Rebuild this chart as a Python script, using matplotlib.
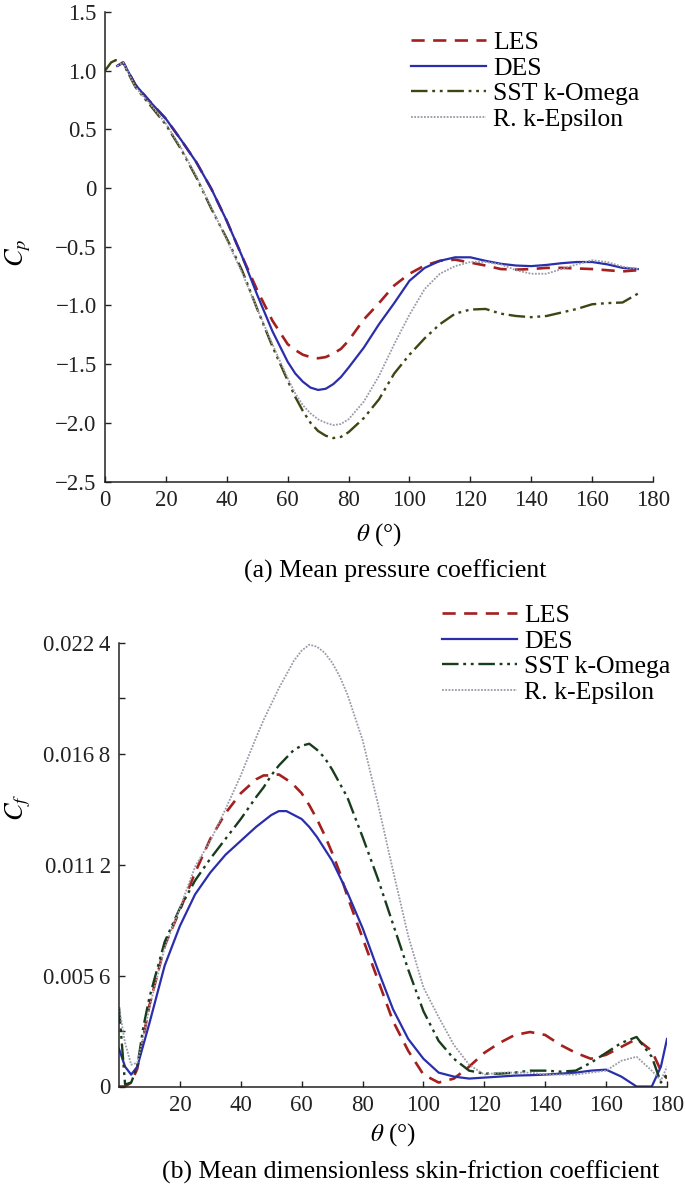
import matplotlib
matplotlib.use('Agg')
import matplotlib.pyplot as plt

plt.rcParams['font.family'] = ['Liberation Serif', 'DejaVu Serif']
plt.rcParams['mathtext.fontset'] = 'stix'

# --- Data: (a) mean pressure coefficient -------------------------------------
theta_cp = [4, 6, 10, 15, 20, 25, 30, 35, 40, 45, 50, 55,
            60, 62.5, 65, 67.5, 70, 72.5, 75, 77.5, 80, 85, 90, 95, 100,
            105, 110, 115, 120, 125, 130, 135, 140, 145, 150, 155, 160, 165, 170, 175]
cp_les = [1.04, 1.07, 0.88, 0.73, 0.59, 0.41, 0.22, -0.01, -0.28, -0.58, -0.87, -1.13,
          -1.33, -1.38, -1.42, -1.44, -1.45, -1.44, -1.41, -1.37, -1.30, -1.12, -0.98, -0.83, -0.73,
          -0.66, -0.62, -0.61, -0.635, -0.66, -0.69, -0.695, -0.69, -0.68, -0.68, -0.685, -0.69, -0.70, -0.71, -0.70]
cp_des = [1.04, 1.07, 0.88, 0.73, 0.59, 0.41, 0.22, -0.01, -0.28, -0.58, -0.91, -1.22,
          -1.48, -1.58, -1.65, -1.70, -1.72, -1.71, -1.67, -1.61, -1.53, -1.36, -1.16, -0.98, -0.79,
          -0.68, -0.62, -0.59, -0.59, -0.62, -0.645, -0.66, -0.665, -0.655, -0.64, -0.63, -0.63, -0.65, -0.68, -0.69]
cp_rke = [1.04, 1.07, 0.86, 0.71, 0.55, 0.34, 0.10, -0.17, -0.44, -0.72, -1.03, -1.33,
          -1.62, -1.75, -1.85, -1.92, -1.97, -2.00, -2.02, -2.01, -1.97, -1.82, -1.60, -1.33, -1.08,
          -0.86, -0.73, -0.665, -0.63, -0.63, -0.65, -0.70, -0.73, -0.73, -0.69, -0.65, -0.615, -0.63, -0.67, -0.69]
theta_cp_sst = [0, 2, 3.5, 6, 10, 15, 20, 25, 30, 35, 40, 45, 50, 55,
                60, 62.5, 65, 67.5, 70, 72.5, 75, 77.5, 80, 85, 90, 95, 100,
                105, 110, 115, 120, 125, 130, 135, 140, 145, 150, 155, 160, 165, 170, 175]
cp_sst = [1.00, 1.07, 1.09, 1.06, 0.86, 0.70, 0.54, 0.33, 0.09, -0.18, -0.43, -0.70, -1.03, -1.35,
          -1.64, -1.78, -1.90, -2.00, -2.07, -2.11, -2.13, -2.12, -2.08, -1.96, -1.80, -1.58, -1.42,
          -1.28, -1.16, -1.07, -1.035, -1.03, -1.07, -1.09, -1.10, -1.09, -1.06, -1.03, -0.99, -0.98, -0.975, -0.90]

cp_yticks = [-2.5, -2.0, -1.5, -1.0, -0.5, 0, 0.5, 1.0, 1.5]
cp_yticklabels = ['\u22122.5', '\u22122.0', '\u22121.5', '\u22121.0', '\u22120.5', '0', '0.5', '1.0', '1.5']
cp_xticks = [0, 20, 40, 60, 80, 100, 120, 140, 160, 180]

# --- Data: (b) mean skin-friction coefficient --------------------------------
theta_cf = [0, 2, 4, 6, 8, 10, 15, 20, 25, 30, 35, 40, 45, 47.5, 50, 52.5, 55, 57.5, 60,
            62.5, 65, 67.5, 70, 72.5, 75, 80, 85,
            90, 95, 100, 105, 110, 115, 120, 125, 130, 135, 140, 145, 150, 155, 160, 165,
            170, 175, 178, 180]
cf_les = [0.0, 0.0, 0.0002, 0.0009, 0.0025, 0.0041, 0.0071, 0.0089, 0.0108, 0.0125, 0.0138,
          0.0148, 0.0155, 0.0157, 0.0157, 0.01575, 0.0155, 0.0152, 0.0148,
          0.0142, 0.0135, 0.0127, 0.0118, 0.0108, 0.0096, 0.0075, 0.0054,
          0.0033, 0.0018, 0.0006, 0.0002, 0.0004, 0.0010, 0.0017, 0.0022, 0.0026, 0.00275,
          0.0026, 0.0021, 0.0017, 0.0014, 0.0016, 0.0020, 0.0024, 0.0018, 0.0008, 0.0004]
cf_des = [0.0019, 0.0010, 0.0006, 0.0010, 0.0021, 0.0032, 0.0061, 0.0081, 0.0097, 0.0108, 0.0117,
          0.0124, 0.0131, 0.0134, 0.0137, 0.0139, 0.0139, 0.0137, 0.0135,
          0.0131, 0.0126, 0.0120, 0.0114, 0.0106, 0.0098, 0.0080, 0.0059,
          0.0039, 0.0024, 0.0014, 0.0007, 0.0005, 0.0004, 0.00045, 0.0005, 0.00055, 0.00057,
          0.0006, 0.00065, 0.0007, 0.0008, 0.00085, 0.0005, 0.0, 0.0, 0.0010, 0.0024]
cf_sst = [0.0040, 0.0001, 0.0002, 0.0010, 0.0030, 0.0045, 0.0073, 0.0090, 0.0104, 0.0115, 0.0125,
          0.0135, 0.0146, 0.0151, 0.0157, 0.0162, 0.0166, 0.0170, 0.0172,
          0.0173, 0.0170, 0.0166, 0.0160, 0.0153, 0.0146, 0.0126, 0.0105,
          0.0082, 0.0059, 0.0038, 0.0023, 0.0014, 0.0008, 0.00065, 0.00065, 0.0007, 0.0008,
          0.0008, 0.00075, 0.0008, 0.0012, 0.0017, 0.0022, 0.0025, 0.0015, 0.0002, 0.0006]
cf_rke = [0.0040, 0.0022, 0.0011, 0.0012, 0.0025, 0.0040, 0.0070, 0.0090, 0.0111, 0.0124, 0.0140,
          0.0157, 0.0176, 0.0185, 0.0193, 0.0201, 0.0208, 0.0215, 0.0220,
          0.0223, 0.0222, 0.0219, 0.0214, 0.0207, 0.0198, 0.0175, 0.0143,
          0.0109, 0.0076, 0.0050, 0.0035, 0.0021, 0.0011, 0.0006, 0.0007, 0.0007, 0.0007,
          0.0006, 0.0006, 0.0006, 0.0007, 0.0008, 0.0013, 0.0015, 0.0008, 0.0003, 0.0010]

cf_yticks = [0, 0.0056, 0.0112, 0.0168, 0.0224]
cf_yticklabels = ['0', '0.005\u20096', '0.011\u20092', '0.016\u20098', '0.022\u20094']
cf_yminor = [0.0028, 0.0196]
cf_xticks = [20, 40, 60, 80, 100, 120, 140, 160, 180]

labels = ['LES', 'DES', 'SST k-Omega', 'R. k-Epsilon']

# --- Styles ------------------------------------------------------------------
les_kw = dict(color='#a3201f', lw=1.9, ls=(0, (5, 3.2)))
des_kw = dict(color='#2a2eaa', lw=1.6, ls='-')
dashdotdot = (0, (7, 2, 1.2, 2, 1.2, 2))
rke_kw = dict(color='#9a9aa8', lw=1.3, ls=(0, (1, 0.8)))
leg_kw = dict(loc='upper left', frameon=False, fontsize=18.5, handlelength=2.9,
              handletextpad=0.3, labelspacing=0.1, borderpad=0, borderaxespad=0)


def style_axes(ax):
    for s in ['top', 'right']:
        ax.spines[s].set_visible(False)
    for s in ['left', 'bottom']:
        ax.spines[s].set_linewidth(1.1)
        ax.spines[s].set_color('#222222')
    ax.tick_params(which='both', direction='in', length=4.5, width=1.0,
                   labelsize=16.5, pad=6, colors='#222222')


fig = plt.figure(figsize=(6.85, 11.89), dpi=100)

# --- (a) ---------------------------------------------------------------------
ax1 = fig.add_axes([105 / 685, 1 - 481.5 / 1189, 548 / 685, 469.5 / 1189])
ax1.plot(theta_cp, cp_les, label=labels[0], **les_kw)
ax1.plot(theta_cp, cp_des, label=labels[1], **des_kw)
ax1.plot(theta_cp_sst, cp_sst, label=labels[2], color='#3f4512', lw=1.7, ls=dashdotdot)
ax1.plot(theta_cp, cp_rke, label=labels[3], **rke_kw)
ax1.set_xlim(0, 180)
ax1.set_ylim(-2.5, 1.5)
ax1.set_xticks(cp_xticks)
ax1.set_yticks(cp_yticks)
ax1.set_yticklabels(cp_yticklabels)
style_axes(ax1)
ax1.legend(bbox_to_anchor=(411 / 685, 1 - 31 / 1189), bbox_transform=fig.transFigure, **leg_kw)

fig.text(18 / 685, 1 - 253 / 1189, r'$C_p$', rotation=90, fontsize=19,
         ha='center', va='center')
fig.text(379 / 685, 1 - 535 / 1189, r'$\theta$ (°)', fontsize=18, ha='center', va='center')
fig.text(395 / 685, 1 - 571 / 1189, '(a) Mean pressure coefficient', fontsize=18.5,
         ha='center', va='center')

# --- (b) ---------------------------------------------------------------------
ax2 = fig.add_axes([119 / 685, 1 - 1086.5 / 1189, 548 / 685, 443.8 / 1189])
ax2.plot(theta_cf, cf_les, label=labels[0], **les_kw)
ax2.plot(theta_cf, cf_des, label=labels[1], **des_kw)
ax2.plot(theta_cf, cf_sst, label=labels[2], color='#173d1c', lw=1.7, ls=dashdotdot)
ax2.plot(theta_cf, cf_rke, label=labels[3], **rke_kw)
ax2.set_xlim(0, 180)
ax2.set_ylim(0, 0.0224)
ax2.set_xticks(cf_xticks)
ax2.set_yticks(cf_yticks)
ax2.set_yticklabels(cf_yticklabels)
ax2.set_yticks(cf_yminor, minor=True)
style_axes(ax2)
ax2.legend(bbox_to_anchor=(442 / 685, 1 - 604 / 1189), bbox_transform=fig.transFigure, **leg_kw)

fig.text(18 / 685, 1 - 807 / 1189, r'$C_f$', rotation=90, fontsize=19,
         ha='center', va='center')
fig.text(393 / 685, 1 - 1135 / 1189, r'$\theta$ (°)', fontsize=18, ha='center', va='center')
fig.text(411 / 685, 1 - 1172 / 1189, '(b) Mean dimensionless skin-friction coefficient',
         fontsize=18.5, ha='center', va='center')

fig.savefig('out.png', dpi=100)
